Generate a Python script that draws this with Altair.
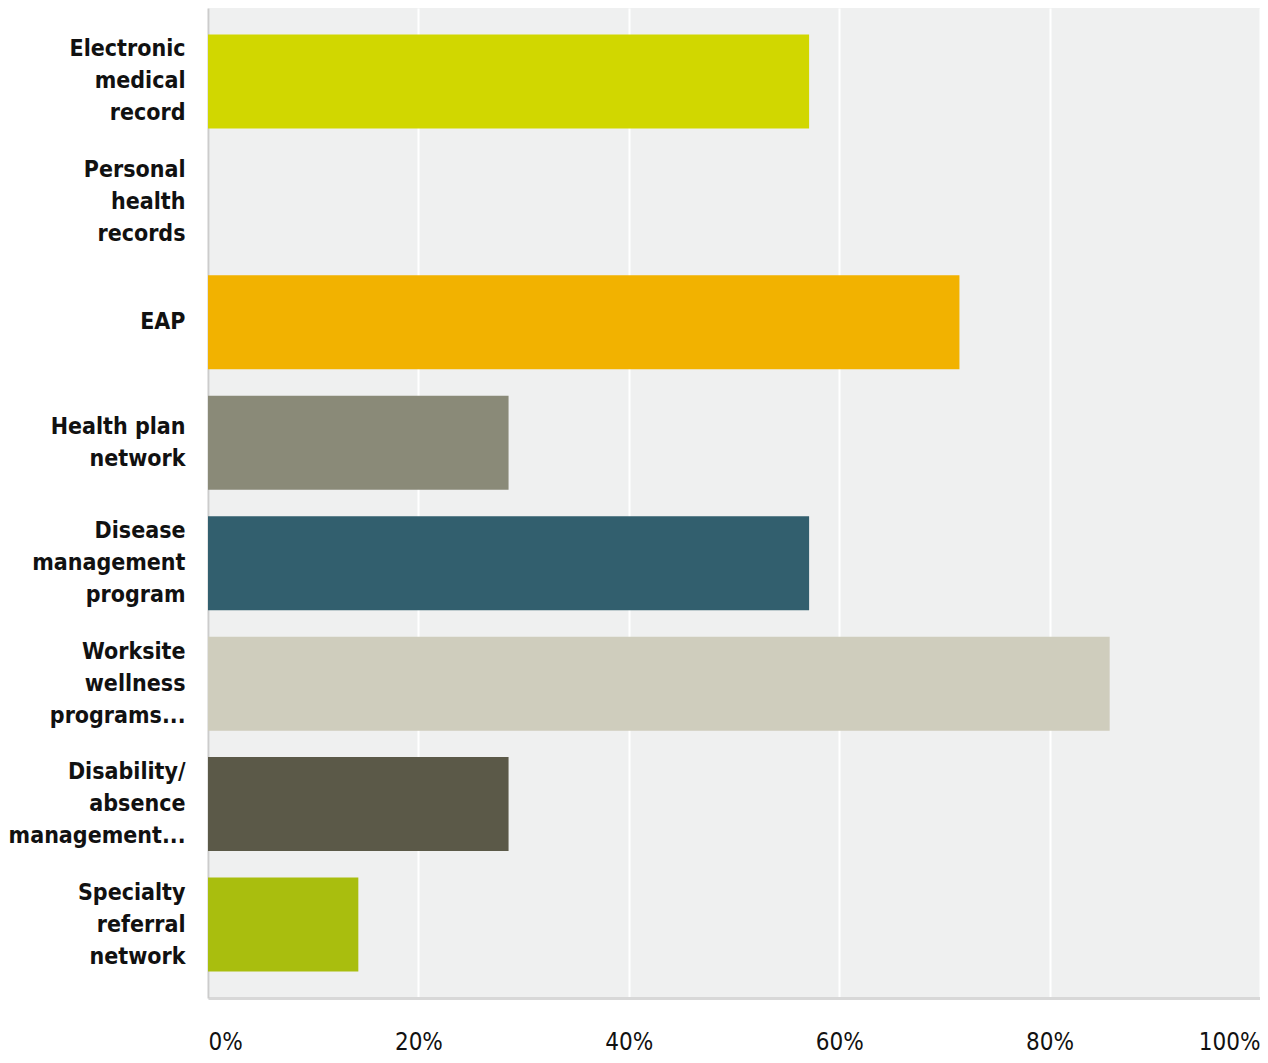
import altair as alt
import pandas as pd

categories = [
    "Electronic medical record",
    "Personal health records",
    "EAP",
    "Health plan network",
    "Disease management program",
    "Worksite wellness programs...",
    "Disability/ absence management...",
    "Specialty referral network",
]
label_lines = [
    "Electronic|medical|record",
    "Personal|health|records",
    "EAP",
    "Health plan|network",
    "Disease|management|program",
    "Worksite|wellness|programs...",
    "Disability/|absence|management...",
    "Specialty|referral|network",
]
values = [0.5714, 0.0, 0.7143, 0.2857, 0.5714, 0.8571, 0.2857, 0.1429]
colors = ["#d1d700", "#eff0f0", "#f2b200", "#8a8a78", "#325f6e", "#cfcdbd", "#5b5948", "#a9be0e"]

df = pd.DataFrame({"category": categories, "label": label_lines, "value": values})

FONT = "DejaVu Sans Condensed, Liberation Sans Narrow, sans-serif"

chart = (
    alt.Chart(df)
    .mark_bar()
    .encode(
        y=alt.Y(
            "label:N",
            sort=label_lines,
            title=None,
            scale=alt.Scale(paddingInner=0.22, paddingOuter=0.22),
            axis=alt.Axis(
                labelExpr="split(datum.label, '|')",
                labelFont=FONT,
                labelFontSize=23,
                labelFontWeight="bold",
                labelColor="#111111",
                labelLineHeight=32,
                labelPadding=23,
                labelLimit=400,
                labelOffset={
                    "condition": [
                        {"test": "indexof(datum.value, '|') < 0", "value": 0},
                        {"test": "length(split(datum.value, '|')) == 2", "value": -16},
                    ],
                    "value": -32,
                },
                ticks=False,
                domainColor="#cccccc",
                domainWidth=2,
                minExtent=200,
                maxExtent=200,
                grid=False,
            ),
        ),
        x=alt.X(
            "value:Q",
            title=None,
            scale=alt.Scale(domain=[0, 1]),
            axis=alt.Axis(
                format=".0%",
                values=[0, 0.2, 0.4, 0.6, 0.8, 1.0],
                labelFont=FONT,
                labelFontSize=24,
                labelColor="#111111",
                labelPadding=32,
                labelFlush=True,
                ticks=False,
                domainColor="#d8d8d8",
                domainWidth=3,
                gridColor="#ffffff",
                gridWidth=2,
            ),
        ),
        color=alt.Color(
            "category:N",
            sort=categories,
            scale=alt.Scale(domain=categories, range=colors),
            legend=None,
        ),
    )
    .properties(width=1052, height=990, padding={"left": 0, "top": 0, "right": 0, "bottom": 0})
    .configure_view(fill="#eff0f0", stroke=None)
)

chart.save("out.html", embed_options={"renderer": "svg", "actions": False})
